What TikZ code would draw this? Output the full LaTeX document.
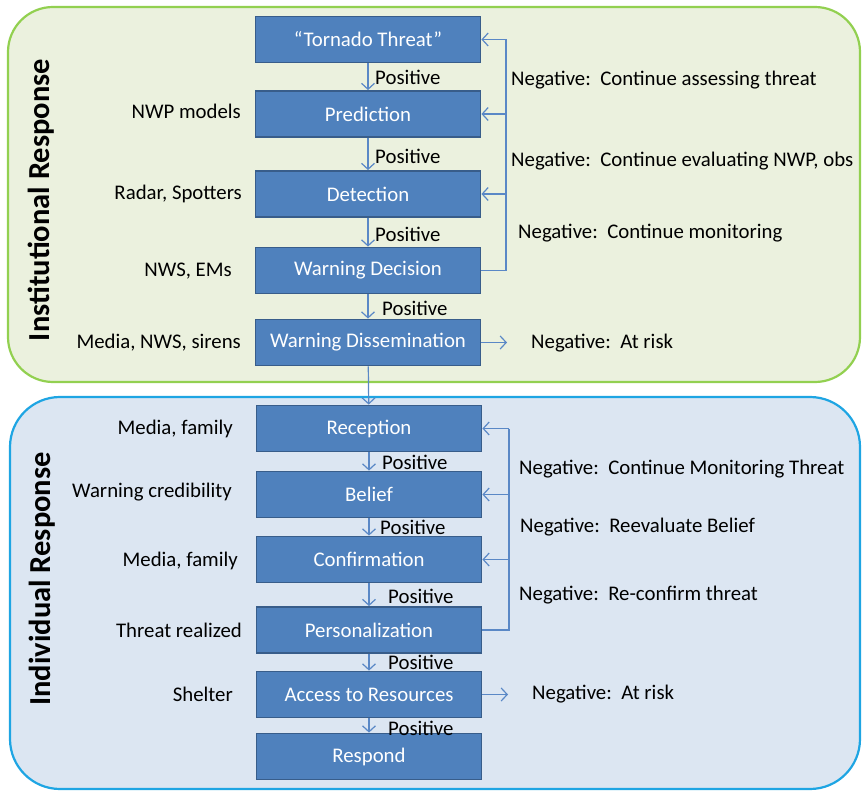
\documentclass[tikz,border=0pt]{standalone}
\usepackage{fontspec}
\setmainfont{Carlito}
\usetikzlibrary{arrows.meta}
\definecolor{grfill}{HTML}{EBF1DE}
\definecolor{grline}{HTML}{92D050}
\definecolor{blfill}{HTML}{DCE6F2}
\definecolor{blline}{HTML}{1EA5E3}
\definecolor{boxfill}{HTML}{4F81BD}
\definecolor{boxline}{HTML}{385D8A}
\definecolor{arrcol}{HTML}{5A88C6}
\begin{document}
\begin{tikzpicture}[x=1pt,y=-1pt,
  stepbox/.style={draw=boxline,fill=boxfill,line width=1.8pt,minimum width=225pt,minimum height=46pt,inner sep=0pt,text=white,font=\fontsize{20.8}{24}\selectfont},
  lbl/.style={font=\fontsize{20.8}{24}\selectfont,inner sep=0pt,text=black},
  arr/.style={draw=arrcol,line width=1.2pt,-{Straight Barb[length=6pt,width=13pt,line width=1.2pt]}},
  fb/.style={draw=arrcol,line width=1.2pt},
  title/.style={font=\fontsize{30.5}{34}\selectfont\bfseries,rotate=90,inner sep=0pt}]
\useasboundingbox (0,0) rectangle (862,791);
% panels
\draw[draw=grline,fill=grfill,line width=2.2pt,rounded corners=45pt] (8,7) rectangle (860,382);
\draw[draw=blline,fill=blfill,line width=2.2pt,rounded corners=50pt] (10,397) rectangle (860,789);
\node[title] (t1) at (41,200) {Institutional Response};
\node[title] (t2) at (42,579) {Individual Response};
% boxes
\node[stepbox] (T) at (368,39.5) {``Tornado Threat''};
\node[stepbox] (P) at (368,114) {Prediction};
\node[stepbox] (D) at (368,194) {Detection};
\node[stepbox] (WDc) at (368,270.5) {Warning Decision};
\node[stepbox] (WDs) at (368,342.5) {Warning Dissemination};
\node[stepbox] (R) at (369,428.5) {Reception};
\node[stepbox] (B) at (369,494.5) {Belief};
\node[stepbox] (C) at (369,559.5) {Confirmation};
\node[stepbox] (Pe) at (369,630) {Personalization};
\node[stepbox] (A) at (369,694.5) {Access to Resources};
\node[stepbox] (Rs) at (369,756.5) {Respond};
% vertical arrows
\draw[arr] (T) -- (P);
\draw[arr] (P) -- (D);
\draw[arr] (D) -- (WDc);
\draw[arr] (WDc) -- (WDs);
\draw[arr] (WDs) -- (R);
\draw[arr] (R) -- (B);
\draw[arr] (B) -- (C);
\draw[arr] (C) -- (Pe);
\draw[arr] (Pe) -- (A);
\draw[arr] (A) -- (Rs);
% positive labels
\node[lbl,anchor=west] (p1) at (375,77) {Positive};
\node[lbl,anchor=west] (p2) at (375,156) {Positive};
\node[lbl,anchor=west] (p3) at (375,234) {Positive};
\node[lbl,anchor=west] (p4) at (382,308) {Positive};
\node[lbl,anchor=west] (p5) at (382,462) {Positive};
\node[lbl,anchor=west] (p6) at (380,527) {Positive};
\node[lbl,anchor=west] (p7) at (388,596) {Positive};
\node[lbl,anchor=west] (p8) at (388,662) {Positive};
\node[lbl,anchor=west] (p9) at (388,728) {Positive};
% feedback loops, institutional
\coordinate (fx1) at (506,0);
\draw[fb] (WDc.east) -- (WDc.east -| fx1) -- (T.east -| fx1);
\draw[arr] (T.east -| fx1) -- (T.east);
\draw[arr] (P.east -| fx1) -- (P.east);
\draw[arr] (D.east -| fx1) -- (D.east);
\coordinate (risk1) at (507,342.5);
\draw[arr] (WDs.east) -- (risk1);
% feedback loops, individual
\coordinate (fx2) at (509,0);
\draw[fb] (Pe.east) -- (Pe.east -| fx2) -- (R.east -| fx2);
\draw[arr] (R.east -| fx2) -- (R.east);
\draw[arr] (B.east -| fx2) -- (B.east);
\draw[arr] (C.east -| fx2) -- (C.east);
\coordinate (risk2) at (508,694.5);
\draw[arr] (A.east) -- (risk2);
% negative labels
\node[lbl,anchor=west] (n1) at (511,80) {Negative:\ \ Continue assessing threat};
\node[lbl,anchor=west] (n2) at (511,161) {Negative:\ \ Continue evaluating NWP, obs};
\node[lbl,anchor=west] (n3) at (518,233) {Negative:\ \ Continue monitoring};
\node[lbl,anchor=west] (n4) at (531,343) {Negative:\ \ At risk};
\node[lbl,anchor=west] (n5) at (519,469) {Negative:\ \ Continue Monitoring Threat};
\node[lbl,anchor=west] (n6) at (520,527) {Negative:\ \ Reevaluate Belief};
\node[lbl,anchor=west] (n7) at (519,595) {Negative:\ \ Re-confirm threat};
\node[lbl,anchor=west] (n8) at (532,694) {Negative:\ \ At risk};
% left labels
\node[lbl,anchor=east] (l1) at (241,111) {NWP models};
\node[lbl,anchor=east] (l2) at (242,194) {Radar, Spotters};
\node[lbl,anchor=east] (l3) at (232,271) {NWS, EMs};
\node[lbl,anchor=east] (l4) at (241,343) {Media, NWS, sirens};
\node[lbl,anchor=east] (l5) at (233,429) {Media, family};
\node[lbl,anchor=east] (l6) at (232,492) {Warning credibility};
\node[lbl,anchor=east] (l7) at (238,561) {Media, family};
\node[lbl,anchor=east] (l8) at (242,630) {Threat realized};
\node[lbl,anchor=east] (l9) at (233,694) {Shelter};
\end{tikzpicture}
\end{document}
